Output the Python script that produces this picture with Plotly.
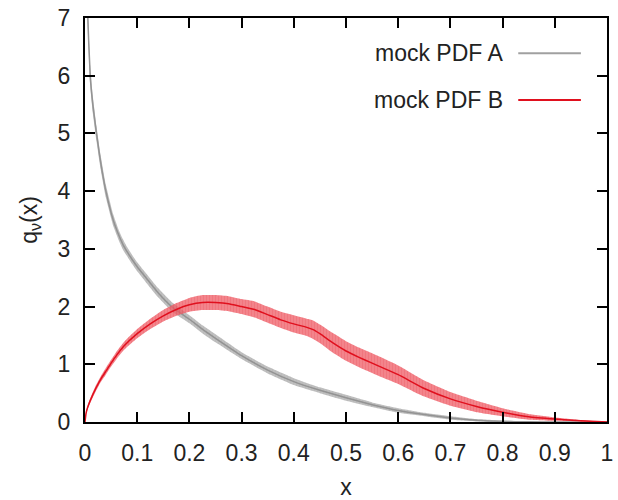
import plotly.graph_objects as go

# ---- data ----
xA = [0.003, 0.005, 0.01, 0.015, 0.022, 0.03, 0.04, 0.054, 0.065, 0.073, 0.08, 0.09, 0.1, 0.115, 0.14, 0.166,
      0.2, 0.226, 0.25, 0.3, 0.35, 0.4, 0.45, 0.5, 0.55, 0.6, 0.65, 0.7, 0.75, 0.8, 0.85, 0.9, 1.0]
A_central = [9.0, 7.1, 6.0, 5.5, 5.0, 4.5, 4.0, 3.5, 3.23, 3.07, 2.96, 2.82, 2.69, 2.52, 2.24, 2.0,
             1.78, 1.6, 1.45, 1.15, 0.9, 0.7, 0.55, 0.42, 0.3, 0.2, 0.13, 0.07, 0.03, 0.01, 0.003, 0.0, 0.0]
A_err = [0.22, 0.2, 0.17, 0.15, 0.13, 0.12, 0.11, 0.1, 0.09, 0.09, 0.08, 0.08, 0.08, 0.08, 0.08, 0.08,
         0.07, 0.07, 0.07, 0.06, 0.06, 0.06, 0.05, 0.05, 0.04, 0.04, 0.03, 0.03, 0.02, 0.015, 0.01, 0.0, 0.0]

xB = [0.0, 0.002, 0.005, 0.01, 0.02, 0.03, 0.04, 0.05, 0.06, 0.075, 0.1, 0.125, 0.15, 0.175, 0.2, 0.225,
      0.25, 0.275, 0.3, 0.325, 0.35, 0.375, 0.4, 0.425, 0.437, 0.45, 0.475, 0.5, 0.525, 0.55,
      0.565, 0.6, 0.65, 0.7, 0.75, 0.8, 0.85, 0.9, 0.95, 1.0]
B_central = [0.0, 0.15, 0.25, 0.37, 0.57, 0.74, 0.88, 1.02, 1.15, 1.32, 1.53, 1.7, 1.84, 1.95, 2.03, 2.07,
             2.07, 2.05, 2.0, 1.95, 1.86, 1.77, 1.7, 1.64, 1.6, 1.53, 1.37, 1.23, 1.12, 1.02,
             0.96, 0.82, 0.58, 0.4, 0.27, 0.17, 0.09, 0.05, 0.02, 0.0]
B_err = [0.0, 0.02, 0.03, 0.04, 0.05, 0.05, 0.06, 0.06, 0.065, 0.07, 0.08, 0.09, 0.1, 0.11, 0.12, 0.13,
         0.13, 0.13, 0.13, 0.14, 0.14, 0.14, 0.15, 0.15, 0.16, 0.16, 0.17, 0.17, 0.17, 0.17,
         0.17, 0.16, 0.14, 0.12, 0.1, 0.07, 0.05, 0.03, 0.015, 0.0]

labels = ["mock PDF A", "mock PDF B"]

GRAY_BAND = "rgba(175,175,175,0.8)"
GRAY_LINE = "#939393"
RED_BAND = "rgba(238,90,100,0.75)"
RED_PAT = "rgba(225,40,55,0.35)"
GRAY_PAT = "rgba(150,150,150,0.3)"
RED_LINE = "#e0101e"

fig = go.Figure()


def add_band(x, c, e, band_col, pat_col, line_col):
    up = [ci + ei for ci, ei in zip(c, e)]
    lo = [ci - ei for ci, ei in zip(c, e)]
    fig.add_trace(go.Scatter(x=x, y=up, mode="lines", line=dict(width=0, color=band_col, shape="spline", smoothing=0.4),
                             showlegend=False, hoverinfo="skip"))
    fig.add_trace(go.Scatter(x=x, y=lo, mode="lines", fill="tonexty", fillcolor=band_col,
                             fillpattern=dict(shape="|", fgcolor=pat_col, bgcolor=band_col, size=3, solidity=0.3),
                             line=dict(width=0, color=band_col, shape="spline", smoothing=0.4),
                             showlegend=False, hoverinfo="skip"))
    fig.add_trace(go.Scatter(x=x, y=c, mode="lines", line=dict(width=1.5, color=line_col, shape="spline", smoothing=0.4),
                             showlegend=False))


add_band(xA, A_central, A_err, GRAY_BAND, GRAY_PAT, GRAY_LINE)
add_band(xB, B_central, B_err, RED_BAND, RED_PAT, RED_LINE)

FONT = "Liberation Sans, Arial, sans-serif"
FS = 23

# legend drawn gnuplot style: text then line sample
for lab, yy, col in [(labels[0], 0.913, "#a0a0a0"), (labels[1], 0.797, RED_LINE)]:
    fig.add_annotation(x=0.805, y=yy, xref="paper", yref="paper", text=lab, showarrow=False,
                       xanchor="right", yanchor="middle", font=dict(size=FS, family=FONT, color="#222"))
    fig.add_shape(type="line", xref="paper", yref="paper", x0=0.83, x1=0.95, y0=yy, y1=yy,
                  line=dict(color=col, width=2))

axis_common = dict(showline=True, linecolor="black", linewidth=2, mirror="ticks",
                   ticks="inside", ticklen=10, tickwidth=1.5, tickcolor="black",
                   showgrid=False, zeroline=False, automargin=False,
                   tickfont=dict(size=FS, family=FONT, color="#222"))

fig.update_xaxes(range=[0, 1], dtick=0.1, ticklabelstandoff=9,
                 title=dict(text="x", font=dict(size=FS, family=FONT, color="#222"), standoff=20),
                 **axis_common)
fig.update_yaxes(range=[0, 7], dtick=1, ticklabelstandoff=8,
                 title=dict(text="q<sub>ν</sub>(x)", font=dict(size=FS, family=FONT, color="#222"), standoff=14),
                 **axis_common)

fig.update_layout(width=618, height=500, margin=dict(l=85, r=11, t=18, b=78),
                  plot_bgcolor="white", paper_bgcolor="white", showlegend=False)

fig.write_html("out.html")
